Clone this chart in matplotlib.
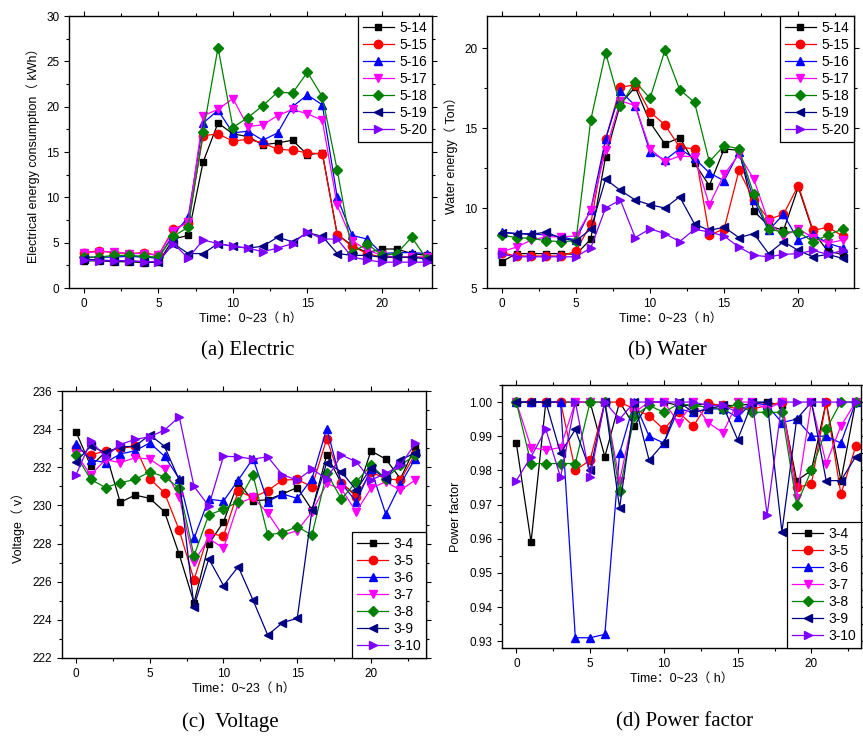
import matplotlib
matplotlib.use('Agg')
import matplotlib.pyplot as plt
from matplotlib.ticker import MultipleLocator

plt.rcParams['font.family'] = ['Liberation Sans', 'Noto Sans CJK SC', 'DejaVu Sans']

hours = list(range(24))

# (a) electrical energy, kWh
elec_labels = ['5-14', '5-15', '5-16', '5-17', '5-18', '5-19', '5-20']
elec_514 = [3.0, 3.0, 2.9, 2.9, 2.8, 2.85, 5.4, 5.8, 13.9, 18.2, 17.0, 16.7, 15.8, 16.0, 16.3, 14.7, 14.9, 5.9, 4.7, 3.9, 4.3, 4.3, 3.8, 3.6]
elec_515 = [3.9, 4.1, 3.9, 3.8, 3.9, 3.6, 6.5, 7.2, 16.8, 17.0, 16.2, 16.4, 16.0, 15.3, 15.2, 14.9, 14.8, 5.9, 4.6, 3.8, 3.4, 3.4, 3.4, 3.4]
elec_516 = [3.4, 3.4, 3.4, 3.5, 3.4, 3.3, 5.9, 7.8, 18.2, 19.6, 17.1, 17.3, 16.3, 17.1, 20.0, 21.3, 20.2, 10.0, 5.8, 5.4, 3.8, 3.9, 3.9, 3.8]
elec_517 = [3.9, 4.0, 4.0, 3.8, 3.8, 3.6, 6.3, 7.3, 19.0, 19.7, 20.9, 17.8, 18.0, 19.0, 19.7, 19.2, 18.5, 9.1, 5.2, 4.2, 3.6, 3.4, 3.4, 3.4]
elec_518 = [3.4, 3.4, 3.6, 3.6, 3.5, 3.4, 5.7, 6.7, 17.2, 26.5, 17.7, 18.8, 20.1, 21.6, 21.5, 23.8, 21.1, 13.0, 3.9, 4.9, 3.6, 3.8, 5.6, 3.2]
elec_519 = [3.2, 3.1, 3.0, 3.0, 2.9, 2.9, 4.9, 3.8, 3.8, 4.9, 4.6, 4.4, 4.6, 5.6, 5.1, 6.1, 5.7, 3.8, 3.6, 3.6, 3.4, 3.4, 3.4, 3.2]
elec_520 = [3.1, 3.0, 3.0, 3.0, 2.9, 2.9, 4.9, 3.3, 5.3, 4.9, 4.6, 4.4, 4.0, 4.4, 4.9, 6.2, 5.4, 5.4, 3.4, 3.1, 2.85, 2.85, 2.85, 2.85]

# (b) water energy, Ton
water_514 = [6.65, 7.15, 7.15, 7.15, 7.15, 7.1, 8.05, 13.2, 16.5, 17.55, 15.35, 14.0, 14.4, 12.8, 11.4, 13.7, 13.6, 9.8, 8.9, 8.6, 11.3, 8.5, 7.3, 7.1]
water_515 = [7.2, 7.0, 7.0, 7.0, 7.0, 7.3, 9.0, 14.3, 17.55, 17.7, 16.0, 15.2, 13.8, 13.7, 8.3, 8.7, 12.35, 10.5, 9.3, 9.6, 11.4, 8.6, 8.8, 8.25]
water_516 = [8.5, 8.4, 8.4, 8.3, 8.2, 8.0, 9.9, 14.3, 17.3, 16.4, 13.5, 13.0, 13.7, 13.1, 12.2, 11.7, 13.5, 10.5, 8.6, 9.6, 8.0, 8.35, 7.8, 7.5]
water_517 = [7.27, 7.56, 8.0, 8.2, 8.2, 8.25, 9.85, 13.6, 16.7, 16.4, 13.7, 12.9, 13.25, 13.2, 10.2, 12.1, 13.35, 11.8, 9.1, 8.25, 8.7, 8.15, 7.8, 8.0]
water_518 = [8.3, 8.15, 8.1, 7.95, 7.9, 7.95, 15.5, 19.7, 16.4, 17.9, 16.85, 19.85, 17.4, 16.6, 12.9, 13.9, 13.7, 10.85, 8.67, 8.5, 8.5, 7.9, 8.3, 8.7]
water_519 = [8.46, 8.4, 8.35, 8.5, 8.1, 7.95, 8.67, 11.8, 11.1, 10.5, 10.2, 10.0, 10.7, 9.0, 8.6, 8.8, 8.15, 8.4, 7.15, 7.9, 7.35, 6.95, 7.1, 6.85]
water_520 = [7.1, 6.95, 6.95, 6.95, 6.95, 6.95, 7.5, 10.0, 10.5, 8.15, 8.7, 8.4, 7.9, 8.67, 8.5, 8.25, 7.55, 7.05, 6.95, 7.1, 7.15, 7.35, 7.1, 7.35]

# (c) voltage, v
volt_labels = ['3-4', '3-5', '3-6', '3-7', '3-8', '3-9', '3-10']
volt_34 = [233.86, 232.06, 232.8, 230.16, 230.54, 230.37, 229.67, 227.43, 224.9, 227.97, 229.14, 231.2, 230.24, 230.3, 230.6, 230.94, 229.76, 232.64, 231.15, 230.54, 232.86, 232.43, 231.4, 233.07]
volt_35 = [232.99, 232.64, 232.86, 232.99, 233.1, 231.4, 230.66, 228.7, 226.1, 228.53, 228.4, 230.75, 230.42, 230.77, 231.33, 231.36, 230.98, 233.5, 231.2, 230.45, 231.76, 231.4, 231.33, 232.7]
volt_36 = [233.2, 232.4, 232.24, 232.7, 232.86, 233.28, 232.58, 231.4, 228.27, 230.33, 230.23, 231.33, 232.46, 230.2, 230.6, 230.37, 231.4, 234.03, 231.15, 230.2, 231.9, 229.55, 231.12, 232.46]
volt_37 = [232.7, 231.6, 232.4, 232.24, 232.5, 232.43, 231.9, 230.45, 227.05, 228.27, 227.75, 230.1, 230.42, 229.6, 228.45, 228.67, 229.67, 231.15, 230.85, 229.67, 230.9, 231.24, 230.8, 231.33]
volt_38 = [232.64, 231.36, 230.94, 231.19, 231.36, 231.76, 231.5, 230.9, 227.36, 229.5, 229.8, 230.2, 231.6, 228.45, 228.58, 228.88, 228.45, 231.71, 230.33, 231.24, 232.11, 231.4, 232.11, 232.64]
volt_39 = [232.3, 233.1, 232.78, 233.07, 233.1, 233.7, 233.1, 231.33, 224.7, 227.2, 225.8, 226.79, 225.04, 223.2, 223.85, 224.08, 229.76, 232.24, 231.76, 230.8, 231.97, 231.4, 232.38, 232.76]
volt_310 = [231.6, 233.37, 232.55, 233.2, 233.46, 233.6, 233.95, 234.65, 231.0, 229.97, 232.58, 232.55, 232.43, 232.55, 231.6, 231.33, 231.9, 231.4, 232.64, 232.29, 231.33, 231.68, 232.11, 233.25]

# (d) power factor
pf_34 = [0.988, 0.959, 1.0, 1.0, 1.0, 1.0, 0.984, 1.0, 0.993, 1.0, 1.0, 0.999, 0.999, 0.9995, 0.999, 0.999, 0.9995, 1.0, 0.999, 0.977, 0.980, 1.0, 0.977, 1.0]
pf_35 = [1.0, 1.0, 1.0, 1.0, 0.980, 0.983, 1.0, 1.0, 0.998, 0.996, 0.992, 0.997, 0.993, 0.9996, 0.999, 0.998, 0.998, 0.999, 1.0, 0.975, 0.976, 1.0, 0.973, 0.987]
pf_36 = [1.0, 1.0, 1.0, 1.0, 0.931, 0.931, 0.932, 0.985, 1.0, 0.990, 0.988, 0.998, 0.997, 0.998, 0.998, 0.9955, 1.0, 0.999, 0.994, 0.995, 0.990, 0.990, 0.988, 1.0]
pf_37 = [1.0, 0.9867, 0.9859, 0.9867, 1.0, 1.0, 1.0, 0.977, 0.997, 1.0, 1.0, 0.994, 1.0, 0.994, 0.991, 1.0, 1.0, 0.998, 1.0, 0.972, 1.0, 0.982, 0.993, 1.0]
pf_38 = [1.0, 0.982, 0.982, 0.982, 0.982, 1.0, 1.0, 0.974, 0.996, 0.999, 0.997, 0.9995, 0.999, 0.9985, 0.998, 0.9994, 0.997, 0.997, 0.997, 0.970, 0.980, 0.992, 1.0, 1.0]
pf_39 = [1.0, 1.0, 1.0, 0.985, 0.992, 0.980, 1.0, 0.969, 1.0, 0.983, 0.988, 1.0, 0.997, 0.998, 0.999, 0.989, 1.0, 1.0, 0.962, 0.995, 1.0, 0.977, 0.977, 0.984]
pf_310 = [0.977, 0.984, 0.992, 0.978, 1.0, 0.978, 1.0, 0.995, 1.0, 1.0, 1.0, 1.0, 1.0, 0.999, 0.999, 0.997, 1.0, 0.967, 1.0, 1.0, 1.0, 1.0, 1.0, 1.0]

colors = ['black', 'red', 'blue', '#ff00ff', 'green', '#000080', '#8000ff']
markers = ['s', 'o', '^', 'v', 'D', '<', '>']
msizes = [5, 6, 6, 6, 5.5, 6, 6]

W, H = 863, 743
fig = plt.figure(figsize=(W / 100, H / 100), dpi=100)


def panel(rect_px, series, labels, xlim, ylim, ymajor, yminor, yfmt, ylabel, ylab_x, legend_loc):
    l, t, r, b = rect_px
    ax = fig.add_axes([l / W, 1 - b / H, (r - l) / W, (b - t) / H])
    for i, ys in enumerate(series):
        ax.plot(hours, ys, color=colors[i], marker=markers[i], ms=msizes[i],
                lw=0.9, label=labels[i])
    ax.set_xlim(*xlim)
    ax.set_ylim(*ylim)
    ax.xaxis.set_major_locator(MultipleLocator(5))
    ax.xaxis.set_minor_locator(MultipleLocator(2.5))
    ax.yaxis.set_major_locator(MultipleLocator(ymajor))
    ax.yaxis.set_minor_locator(MultipleLocator(yminor))
    ax.yaxis.set_major_formatter(plt.FormatStrFormatter(yfmt))
    ax.tick_params(which='both', direction='out', top=True, right=True,
                   labelsize=8.5, width=0.8)
    ax.tick_params(which='major', length=3.5)
    ax.tick_params(which='minor', length=2)
    for s in ax.spines.values():
        s.set_linewidth(1.0)
    ax.set_xlabel('Time：0~23（ h）', fontsize=9, labelpad=2)
    ax.set_ylabel(ylabel, fontsize=9)
    ax.yaxis.set_label_coords((ylab_x - l) / (r - l), 0.5)
    leg = ax.legend(loc=legend_loc, fontsize=10, frameon=True, fancybox=False,
                    edgecolor='black', framealpha=1, borderaxespad=0,
                    handlelength=2.2, handletextpad=0.4, labelspacing=0.22,
                    borderpad=0.35)
    leg.get_frame().set_linewidth(0.9)
    return ax


panel((69, 16, 432, 288),
      [elec_514, elec_515, elec_516, elec_517, elec_518, elec_519, elec_520],
      elec_labels, (-1, 23.36), (0, 30), 5, 2.5, '%d',
      'Electrical energy consumption（ kWh）', 40, 'upper right')

panel((487, 16, 854, 288),
      [water_514, water_515, water_516, water_517, water_518, water_519, water_520],
      elec_labels, (-1, 23.76), (5, 22), 5, 2.5, '%d',
      'Water energy（ Ton）', 458, 'upper right')

panel((62, 391, 426, 658),
      [volt_34, volt_35, volt_36, volt_37, volt_38, volt_39, volt_310],
      volt_labels, (-0.95, 23.73), (222, 236), 2, 1, '%d',
      'Voltage（ v）', 25, 'lower right')

panel((502, 385, 861, 648),
      [pf_34, pf_35, pf_36, pf_37, pf_38, pf_39, pf_310],
      volt_labels, (-0.97, 23.36), (0.928, 1.005), 0.01, 0.005, '%.2f',
      'Power factor', 462, 'lower right')

captions = ['(a) Electric', '(b) Water', '(c)  Voltage', '(d) Power factor']
cap_pos = [(248, 351), (667, 351), (230, 722), (685, 722)]
for txt, (cx, cy) in zip(captions, cap_pos):
    fig.text(cx / W, 1 - cy / H, txt, fontsize=15, family='Liberation Serif',
             ha='center', va='center')

fig.savefig('out.png', dpi=100)
